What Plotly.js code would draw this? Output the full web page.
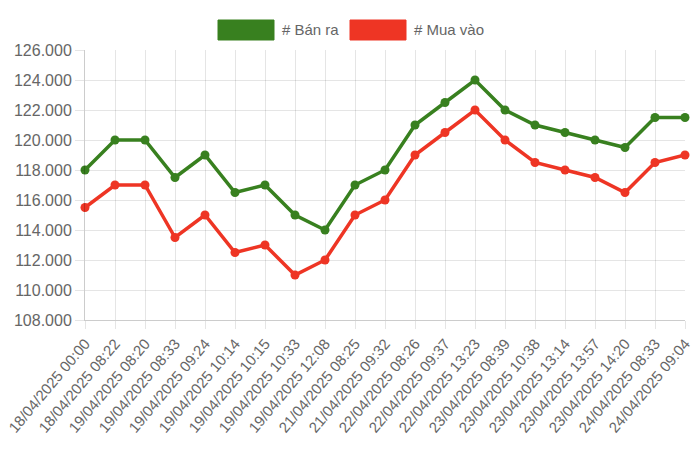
<!DOCTYPE html>
<html>
<head>
<meta charset="utf-8">
<script src="https://cdn.plot.ly/plotly-3.0.1.min.js"></script>
<style>
  html, body { margin: 0; padding: 0; background: #fff; }
  #grafica { width: 700px; height: 451px; }
</style>
</head>
<body>
<div id="grafica"></div>
<script>
// Giá vàng: bán ra / mua vào theo thời điểm cập nhật

let nhan_thoi_gian = [
  '18/04/2025 00:00', '18/04/2025 08:22', '19/04/2025 08:20', '19/04/2025 08:33',
  '19/04/2025 09:24', '19/04/2025 10:14', '19/04/2025 10:15', '19/04/2025 10:33',
  '19/04/2025 12:08', '21/04/2025 08:25', '21/04/2025 09:32', '22/04/2025 08:26',
  '22/04/2025 09:37', '22/04/2025 13:23', '23/04/2025 08:39', '23/04/2025 10:38',
  '23/04/2025 13:14', '23/04/2025 13:57', '23/04/2025 14:20', '24/04/2025 08:33',
  '24/04/2025 09:04'
];

let ban_ra = [
  118000, 120000, 120000, 117500, 119000, 116500, 117000, 115000, 114000, 117000,
  118000, 121000, 122500, 124000, 122000, 121000, 120500, 120000, 119500, 121500,
  121500
];

let mua_vao = [
  115500, 117000, 117000, 113500, 115000, 112500, 113000, 111000, 112000, 115000,
  116000, 119000, 120500, 122000, 120000, 118500, 118000, 117500, 116500, 118500,
  119000
];

let nhan_chuoi = ['# Bán ra', '# Mua vào'];

// Colores
let color_ban = '#38801f';
let color_mua = '#ee3524';
let color_texto = '#666666';
let color_rejilla = 'rgba(0,0,0,0.1)';

let fuente = 'Liberation Sans, Arial, Helvetica, sans-serif';

let serie_ban = {
  x: nhan_thoi_gian,
  y: ban_ra,
  name: nhan_chuoi[0],
  type: 'scatter',
  mode: 'lines+markers',
  line: { color: color_ban, width: 3.5 },
  marker: { color: color_ban, size: 9 },
  cliponaxis: false
};

let serie_mua = {
  x: nhan_thoi_gian,
  y: mua_vao,
  name: nhan_chuoi[1],
  type: 'scatter',
  mode: 'lines+markers',
  line: { color: color_mua, width: 3.5 },
  marker: { color: color_mua, size: 9 },
  cliponaxis: false
};

// Leyenda dibujada a mano (cajas rectangulares al estilo del original)
let formas = [
  { type: 'rect', xref: 'paper', yref: 'paper',
    x0: (218 - 85) / 600, x1: (274 - 85) / 600, y0: (451 - 131 - 40) / 270 , y1: (451 - 131 - 20) / 270,
    fillcolor: color_ban, line: { color: color_ban, width: 1 } },
  { type: 'rect', xref: 'paper', yref: 'paper',
    x0: (350 - 85) / 600, x1: (406 - 85) / 600, y0: (451 - 131 - 40) / 270, y1: (451 - 131 - 20) / 270,
    fillcolor: color_mua, line: { color: color_mua, width: 1 } }
];

let anotaciones = [
  { xref: 'paper', yref: 'paper', x: (280 - 85) / 600, y: (451 - 131 - 30) / 270,
    xanchor: 'left', yanchor: 'middle', showarrow: false, text: nhan_chuoi[0],
    font: { family: fuente, size: 15, color: color_texto } },
  { xref: 'paper', yref: 'paper', x: (412 - 85) / 600, y: (451 - 131 - 30) / 270,
    xanchor: 'left', yanchor: 'middle', showarrow: false, text: nhan_chuoi[1],
    font: { family: fuente, size: 15, color: color_texto } }
];

let layout = {
  width: 700,
  height: 451,
  margin: { l: 85, r: 15, t: 50, b: 131 },
  paper_bgcolor: '#ffffff',
  plot_bgcolor: '#ffffff',
  showlegend: false,
  separators: ',.',
  font: { family: fuente, size: 15, color: color_texto },
  xaxis: {
    type: 'category',
    range: [0, nhan_thoi_gian.length - 1],
    tickangle: -50,
    tickfont: { family: fuente, size: 15, color: color_texto },
    showgrid: true,
    gridcolor: color_rejilla,
    ticks: 'outside',
    ticklen: 8,
    tickcolor: color_rejilla,
    showline: true,
    linecolor: 'rgba(0,0,0,0.2)',
    zeroline: false
  },
  yaxis: {
    range: [108000, 126000],
    dtick: 2000,
    tick0: 108000,
    tickformat: ',.0f',
    tickfont: { family: fuente, size: 16, color: color_texto },
    showgrid: true,
    gridcolor: color_rejilla,
    ticks: 'outside',
    ticklen: 9,
    tickcolor: color_rejilla,
    showline: true,
    linecolor: 'rgba(0,0,0,0.2)',
    zeroline: false
  },
  shapes: formas,
  annotations: anotaciones
};

let config = { displayModeBar: false, responsive: false };

Plotly.newPlot('grafica', [serie_ban, serie_mua], layout, config);
</script>
</body>
</html>
